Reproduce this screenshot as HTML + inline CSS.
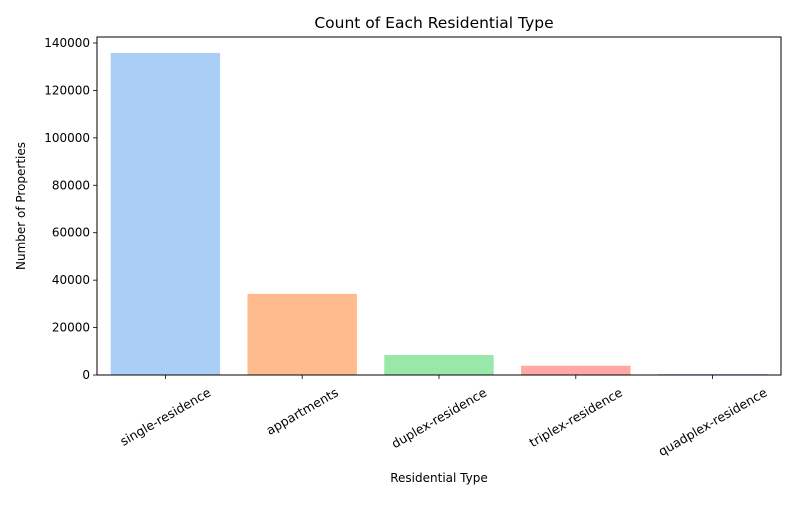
<!DOCTYPE html>
<html><head><meta charset="utf-8"><style>
body{margin:0;background:#fff;font-family:"Liberation Sans","DejaVu Sans",sans-serif;}
svg text{font-family:"DejaVu Sans","Liberation Sans",sans-serif;fill:#000;}
</style></head><body>
<svg id="chart" width="800" height="500" viewBox="0 0 800 500" xmlns="http://www.w3.org/2000/svg">
<text x="434" y="28" font-size="15.5" text-anchor="middle">Count of Each Residential Type</text>
<text x="439" y="482" font-size="12" text-anchor="middle">Residential Type</text>
<text transform="translate(25,206) rotate(-90)" font-size="12" text-anchor="middle">Number of Properties</text>
<g id="plot"></g>
</svg>
<script>
const categories = ["single-residence","appartments","duplex-residence","triplex-residence","quadplex-residence"];
const values = [135800, 34200, 8400, 3900, 400];
const colors = ["#a1c9f4","#ffb482","#8de5a1","#ff9f9b","#d0bbff"];
const yTicks = [0,20000,40000,60000,80000,100000,120000,140000];
const L=97,R=781,T=37,B=375;
const NS="http://www.w3.org/2000/svg";
const g=document.getElementById('plot');
const y=v=>B-v*(B-43)/140000;
const band=(R-L)/categories.length;
const xc=i=>L+band*(i+0.5);
function el(t,a){const e=document.createElementNS(NS,t);for(const k in a)e.setAttribute(k,a[k]);g.appendChild(e);return e;}
categories.forEach((c,i)=>{
  const w=band*0.8;
  const r=el('rect',{x:xc(i)-w/2,y:y(values[i]),width:w,height:B-y(values[i]),fill:colors[i],opacity:0.9});
  
  
  const t=el('line',{x1:xc(i),x2:xc(i),y1:B,y2:B+4,stroke:'#000','stroke-width':0.8});
  
  
  const lab=el('text',{x:0,y:0,'font-size':12.5,'text-anchor':'middle',dy:'0.35em'});
  lab.textContent=c;
  
  
  const len=lab.getComputedTextLength();
  const cy=B+11+(len*0.5+12*0.866)/2;
  lab.setAttribute('transform',`translate(${xc(i)},${cy}) rotate(-30)`);
});
yTicks.forEach(v=>{
  const t=el('line',{x1:L-4,x2:L,y1:y(v),y2:y(v),stroke:'#000','stroke-width':0.8});
  
  
  const lab=el('text',{x:L-7,y:y(v)+4,'font-size':12,'text-anchor':'end'});
  lab.textContent=v;
  
  
});
const fr=el('rect',{x:L,y:T,width:R-L,height:B-T,fill:'none',stroke:'#000','stroke-width':1});


</script>
</body></html>
